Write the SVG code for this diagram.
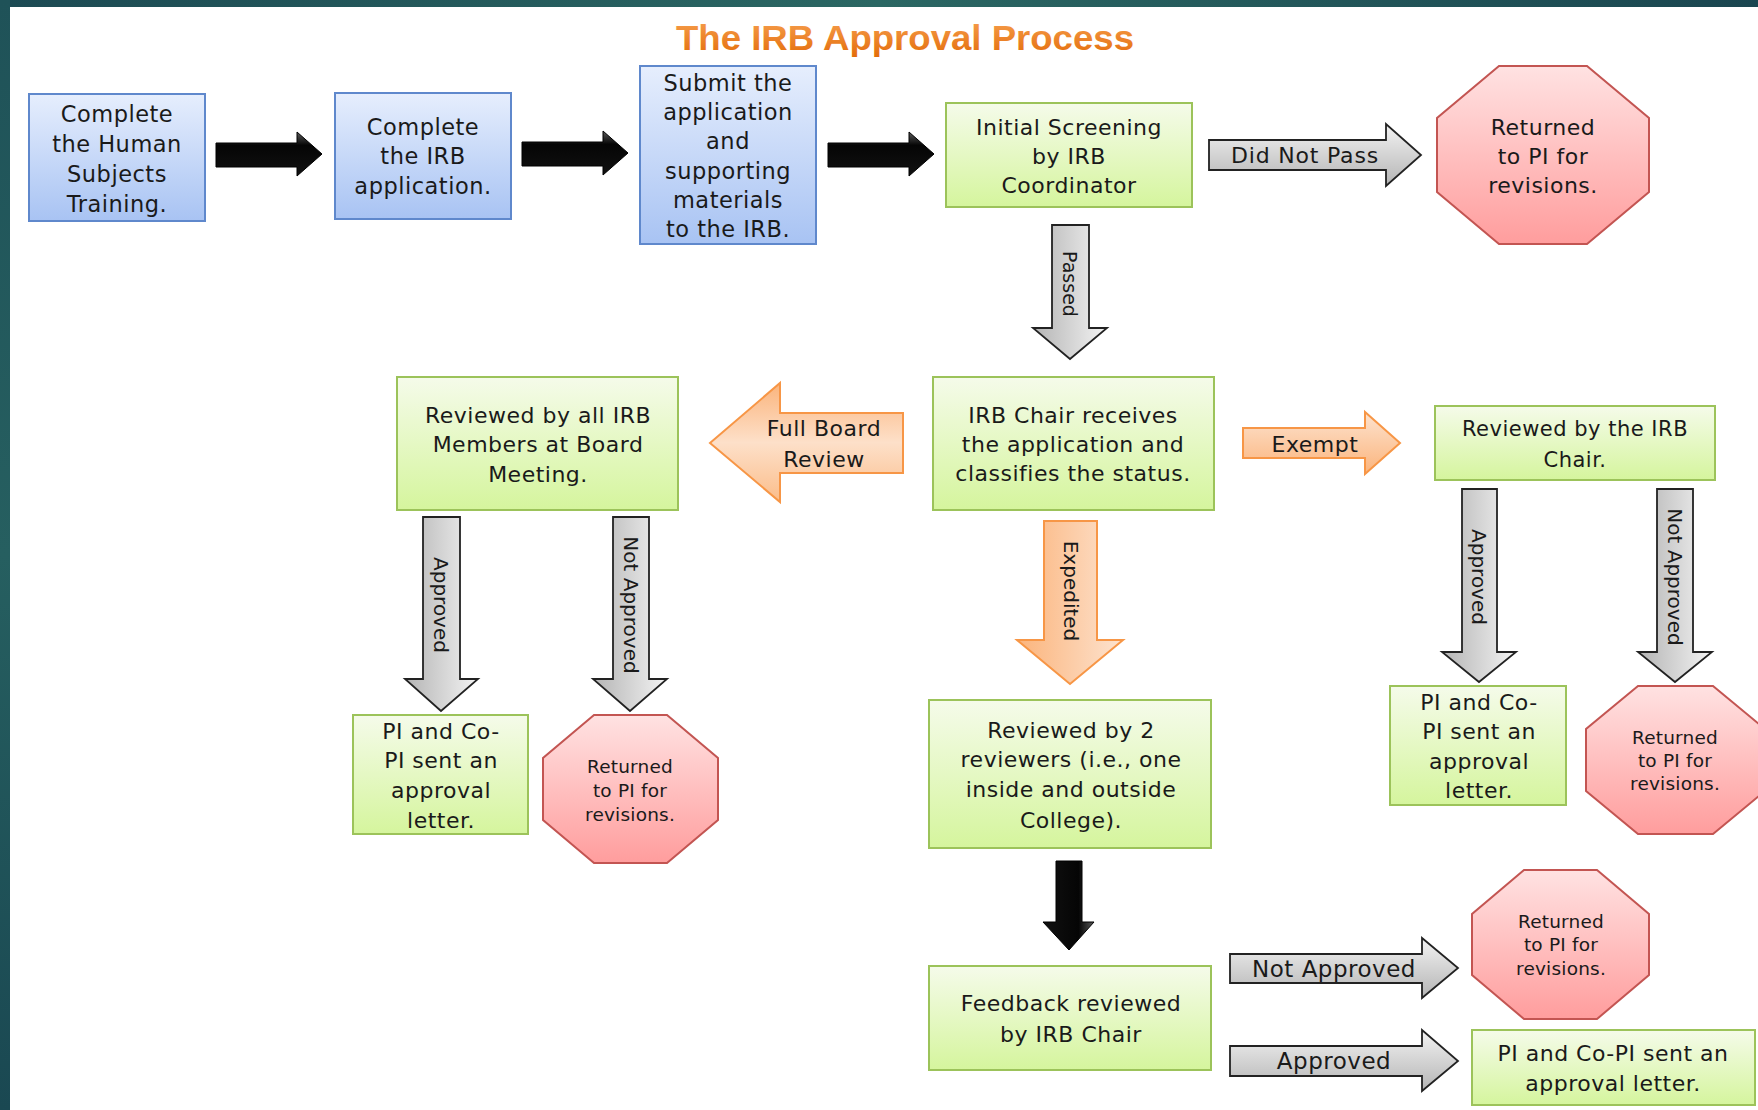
<svg xmlns="http://www.w3.org/2000/svg" width="1758" height="1110" viewBox="0 0 1758 1110">
<defs>
<linearGradient id="gTop" x1="0" y1="0" x2="1" y2="0"><stop offset="0" stop-color="#1c4a53"/><stop offset="0.5" stop-color="#2b6763"/><stop offset="1" stop-color="#1a4650"/></linearGradient>
<linearGradient id="gLeft" x1="0" y1="0" x2="0" y2="1"><stop offset="0" stop-color="#1f5258"/><stop offset="0.5" stop-color="#265f60"/><stop offset="1" stop-color="#1a4852"/></linearGradient>
<linearGradient id="gBlue" x1="0" y1="0" x2="0" y2="1"><stop offset="0" stop-color="#e6eefd"/><stop offset="1" stop-color="#a8c3f3"/></linearGradient>
<linearGradient id="gGreen" x1="0" y1="0" x2="0" y2="1"><stop offset="0" stop-color="#f5fbea"/><stop offset="1" stop-color="#d5f59d"/></linearGradient>
<linearGradient id="gRed" x1="0" y1="0" x2="0" y2="1"><stop offset="0" stop-color="#ffe2e2"/><stop offset="1" stop-color="#ff9d9d"/></linearGradient>
<linearGradient id="gGrayH" x1="0" y1="0" x2="0" y2="1"><stop offset="0" stop-color="#f3f3f3"/><stop offset="1" stop-color="#b4b4b4"/></linearGradient>
<linearGradient id="gGrayV" x1="0" y1="0" x2="1" y2="0"><stop offset="0" stop-color="#b4b4b4"/><stop offset="1" stop-color="#f3f3f3"/></linearGradient>
<linearGradient id="gOrH" x1="0" y1="0" x2="0" y2="1"><stop offset="0" stop-color="#fde3cf"/><stop offset="1" stop-color="#fbb47c"/></linearGradient>
<linearGradient id="gOrL" x1="0" y1="0" x2="0" y2="1"><stop offset="0" stop-color="#fbb47c"/><stop offset="0.5" stop-color="#fde0c9"/><stop offset="1" stop-color="#fbbd8a"/></linearGradient>
<linearGradient id="gOrV" x1="0" y1="0" x2="1" y2="0"><stop offset="0" stop-color="#fbb47c"/><stop offset="1" stop-color="#fde3cf"/></linearGradient>
<linearGradient id="gBlkH" x1="0" y1="0" x2="0" y2="1"><stop offset="0" stop-color="#5a5a5a"/><stop offset="0.3" stop-color="#050505"/><stop offset="1" stop-color="#111"/></linearGradient>
<linearGradient id="gBlkV" x1="0" y1="0" x2="1" y2="0"><stop offset="0" stop-color="#111"/><stop offset="0.7" stop-color="#050505"/><stop offset="1" stop-color="#5a5a5a"/></linearGradient>
<linearGradient id="gTitle" x1="0" y1="0" x2="0" y2="1"><stop offset="0" stop-color="#f7a04f"/><stop offset="1" stop-color="#e36c0a"/></linearGradient>
<style>
.t{font-family:"DejaVu Sans","Verdana",sans-serif;font-size:22px;fill:#1a1a1a;text-anchor:middle;letter-spacing:0.5px}
.s{font-size:18.5px;letter-spacing:0.2px}
.v{font-size:20px;letter-spacing:0}
.blue{fill:url(#gBlue);stroke:#5f88cc;stroke-width:2}
.green{fill:url(#gGreen);stroke:#9cc35a;stroke-width:2}
.red{fill:url(#gRed);stroke:#c35552;stroke-width:2}
.grayh{fill:url(#gGrayH);stroke:#222;stroke-width:1.8;stroke-linejoin:miter}
.grayv{fill:url(#gGrayV);stroke:#222;stroke-width:1.8}
.orh{fill:url(#gOrH);stroke:#f79646;stroke-width:2}
.orl{fill:url(#gOrL);stroke:#f79646;stroke-width:2}
.orv{fill:url(#gOrV);stroke:#f79646;stroke-width:2}
.blkh{fill:url(#gBlkH);stroke:#000;stroke-width:1}
.blkv{fill:url(#gBlkV);stroke:#000;stroke-width:1}
</style>
</defs>
<rect x="0" y="0" width="1758" height="1110" fill="#ffffff"/>
<rect x="0" y="0" width="1758" height="7" fill="url(#gTop)"/>
<rect x="0" y="0" width="10" height="1110" fill="url(#gLeft)"/>
<text x="905" y="50" font-family="Liberation Sans, Arial, sans-serif" font-weight="bold" font-size="35" fill="url(#gTitle)" text-anchor="middle" textLength="458" lengthAdjust="spacingAndGlyphs">The IRB Approval Process</text>

<g id="connectors">
<g id="c1"><polygon class="blkh" points="216,143 297,143 297,132 322,154 297,176 297,167 216,167"/></g>
<g id="c2"><polygon class="blkh" points="522,142 603,142 603,131 628,153 603,175 603,166 522,166"/></g>
<g id="c3"><polygon class="blkh" points="828,143 909,143 909,132 934,154 909,176 909,167 828,167"/></g>
<g id="c-didnotpass"><polygon class="grayh" points="1209,140 1386,140 1386,124 1421,155 1386,186 1386,170 1209,170"/><text class="t" x="1305" y="163" style="letter-spacing:0.8px">Did Not Pass</text></g>
<g id="c-passed"><polygon class="grayv" points="1052,225 1089,225 1089,328 1107,328 1070,359 1033,328 1052,328"/><text class="t" transform="translate(1070,284) rotate(90)" x="0" y="7" style="font-size:19px;letter-spacing:0">Passed</text></g>
<g id="c-fullboard"><polygon class="orl" points="710,443 780,383 780,413 903,413 903,473 780,473 780,502"/><text class="t" x="824" y="436">Full Board</text><text class="t" x="824" y="467">Review</text></g>
<g id="c-exempt"><polygon class="orh" points="1243,428 1365,428 1365,412 1400,443 1365,474 1365,458 1243,458"/><text class="t" x="1315" y="452">Exempt</text></g>
<g id="c-expedited"><polygon class="orv" points="1044,521 1097,521 1097,640 1123,640 1070,684 1017,640 1044,640"/><text class="t v" transform="translate(1071,591) rotate(90)" x="0" y="7">Expedited</text></g>
<g id="c-feedback"><polygon class="blkv" points="1056,861 1082,861 1082,922 1094,922 1069,950 1043,922 1056,922"/></g>
<g id="c-notapproved-b"><polygon class="grayh" points="1230,954 1422,954 1422,938 1458,968 1422,998 1422,983 1230,983"/><text class="t" x="1334" y="977" style="font-size:23px">Not Approved</text></g>
<g id="c-approved-b"><polygon class="grayh" points="1230,1046 1422,1046 1422,1030 1458,1061 1422,1091 1422,1076 1230,1076"/><text class="t" x="1334" y="1069" style="font-size:23px">Approved</text></g>
<g id="c-approved-l"><polygon class="grayv" points="423,517 460,517 460,679 478,679 441,711 405,679 423,679"/><text class="t v" transform="translate(441,605) rotate(90)" x="0" y="7">Approved</text></g>
<g id="c-notapproved-l"><polygon class="grayv" points="613,517 649,517 649,679 667,679 630,711 593,679 613,679"/><text class="t v" transform="translate(631,605) rotate(90)" x="0" y="7">Not Approved</text></g>
<g id="c-approved-r"><polygon class="grayv" points="1462,489 1497,489 1497,652 1516,652 1479,682 1442,652 1462,652"/><text class="t v" transform="translate(1479,577) rotate(90)" x="0" y="7">Approved</text></g>
<g id="c-notapproved-r"><polygon class="grayv" points="1657,489 1693,489 1693,652 1712,652 1675,682 1638,652 1657,652"/><text class="t v" transform="translate(1675,577) rotate(90)" x="0" y="7">Not Approved</text></g>
</g>

<g id="n-training"><rect class="blue" x="29" y="94" width="176" height="127"/>
<text class="t" style="font-size:22.5px"><tspan x="117" y="122">Complete</tspan><tspan x="117" y="152">the Human</tspan><tspan x="117" y="182">Subjects</tspan><tspan x="117" y="212">Training.</tspan></text></g>
<g id="n-application"><rect class="blue" x="335" y="93" width="176" height="126"/>
<text class="t" style="font-size:22.5px"><tspan x="423" y="135">Complete</tspan><tspan x="423" y="164">the IRB</tspan><tspan x="423" y="194">application.</tspan></text></g>
<g id="n-submit"><rect class="blue" x="640" y="66" width="176" height="178"/>
<text class="t" style="font-size:22.5px"><tspan x="728" y="91">Submit the</tspan><tspan x="728" y="120">application</tspan><tspan x="728" y="149">and</tspan><tspan x="728" y="179">supporting</tspan><tspan x="728" y="208">materials</tspan><tspan x="728" y="237">to the IRB.</tspan></text></g>
<g id="n-screening"><rect class="green" x="946" y="103" width="246" height="104"/>
<text class="t"><tspan x="1069" y="135">Initial Screening</tspan><tspan x="1069" y="164">by IRB</tspan><tspan x="1069" y="193">Coordinator</tspan></text></g>
<g id="n-returned1"><polygon class="red" points="1499,66 1587,66 1649,118 1649,192 1587,244 1499,244 1437,192 1437,118"/>
<text class="t"><tspan x="1543" y="135">Returned</tspan><tspan x="1543" y="164">to PI for</tspan><tspan x="1543" y="193">revisions.</tspan></text></g>
<g id="n-chair"><rect class="green" x="933" y="377" width="281" height="133"/>
<text class="t"><tspan x="1073" y="423">IRB Chair receives</tspan><tspan x="1073" y="452">the application and</tspan><tspan x="1073" y="481">classifies the status.</tspan></text></g>
<g id="n-board"><rect class="green" x="397" y="377" width="281" height="133"/>
<text class="t"><tspan x="538" y="423">Reviewed by all IRB</tspan><tspan x="538" y="452">Members at Board</tspan><tspan x="538" y="482">Meeting.</tspan></text></g>
<g id="n-exemptreview"><rect class="green" x="1435" y="406" width="280" height="74"/>
<text class="t" style="font-size:21px"><tspan x="1575" y="436">Reviewed by the IRB</tspan><tspan x="1575" y="467">Chair.</tspan></text></g>
<g id="n-reviewers"><rect class="green" x="929" y="700" width="282" height="148"/>
<text class="t"><tspan x="1071" y="738">Reviewed by 2</tspan><tspan x="1071" y="767">reviewers (i.e., one</tspan><tspan x="1071" y="797">inside and outside</tspan><tspan x="1071" y="828">College).</tspan></text></g>
<g id="n-feedback"><rect class="green" x="929" y="966" width="282" height="104"/>
<text class="t"><tspan x="1071" y="1011">Feedback reviewed</tspan><tspan x="1071" y="1042">by IRB Chair</tspan></text></g>
<g id="n-letter-b"><rect class="green" x="1472" y="1030" width="283" height="75"/>
<text class="t"><tspan x="1613" y="1061">PI and Co-PI sent an</tspan><tspan x="1613" y="1091">approval letter.</tspan></text></g>
<g id="n-returned-b"><polygon class="red" points="1524,870 1597,870 1649,914 1649,975 1597,1019 1524,1019 1472,975 1472,914"/>
<text class="t s"><tspan x="1561" y="928">Returned</tspan><tspan x="1561" y="951">to PI for</tspan><tspan x="1561" y="975">revisions.</tspan></text></g>
<g id="n-letter-l"><rect class="green" x="353" y="715" width="175" height="119"/>
<text class="t"><tspan x="441" y="739">PI and Co-</tspan><tspan x="441" y="768">PI sent an</tspan><tspan x="441" y="798">approval</tspan><tspan x="441" y="828">letter.</tspan></text></g>
<g id="n-returned-l"><polygon class="red" points="594,715 667,715 718,758 718,820 667,863 594,863 543,820 543,758"/>
<text class="t s"><tspan x="630" y="773">Returned</tspan><tspan x="630" y="797">to PI for</tspan><tspan x="630" y="821">revisions.</tspan></text></g>
<g id="n-letter-r"><rect class="green" x="1390" y="686" width="176" height="119"/>
<text class="t"><tspan x="1479" y="710">PI and Co-</tspan><tspan x="1479" y="739">PI sent an</tspan><tspan x="1479" y="769">approval</tspan><tspan x="1479" y="798">letter.</tspan></text></g>
<g id="n-returned-r"><polygon class="red" points="1638,686 1713,686 1765,729 1765,791 1713,834 1638,834 1586,791 1586,729"/>
<text class="t s"><tspan x="1675" y="744">Returned</tspan><tspan x="1675" y="767">to PI for</tspan><tspan x="1675" y="790">revisions.</tspan></text></g>
</svg>
